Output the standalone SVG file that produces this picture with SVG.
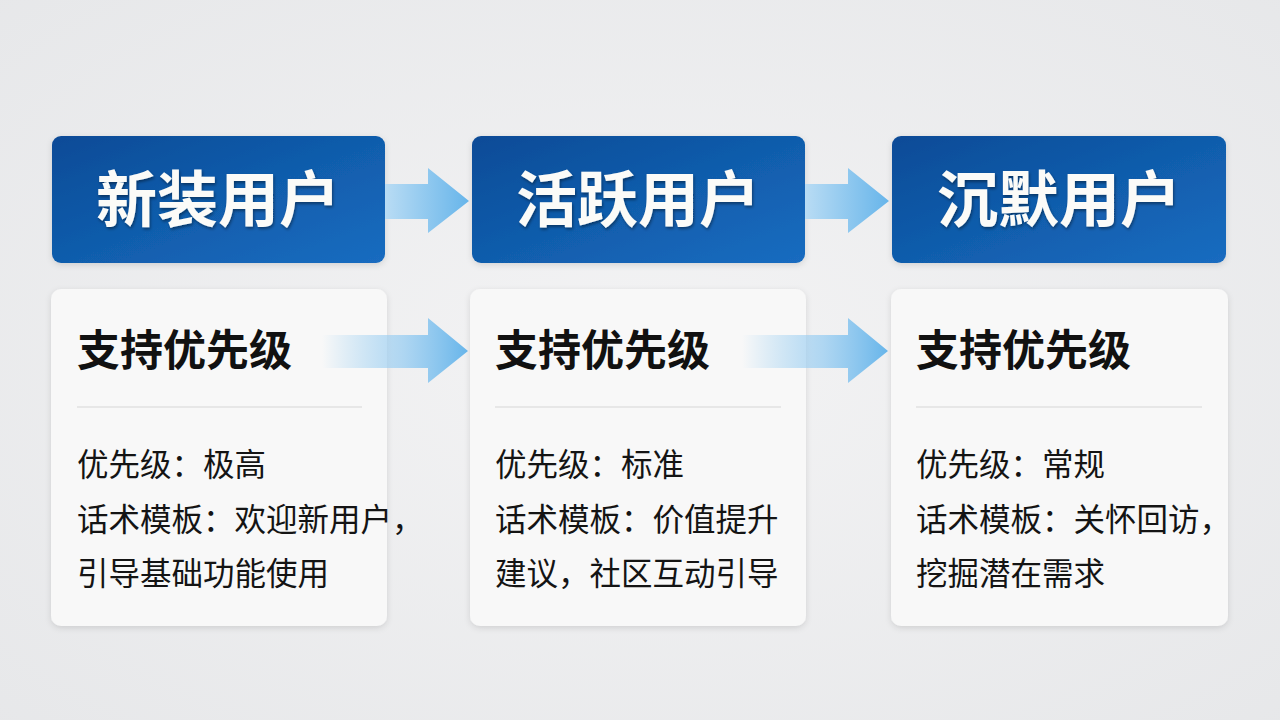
<svg xmlns="http://www.w3.org/2000/svg" width="1280" height="720" viewBox="0 0 1280 720">
<defs>
<radialGradient id="bg" cx="0.5" cy="0.5" r="0.75">
<stop offset="0" stop-color="#f3f3f4"/>
<stop offset="1" stop-color="#e6e7e9"/>
</radialGradient>
<linearGradient id="hdr" x1="0" y1="0" x2="1" y2="1">
<stop offset="0" stop-color="#0b4b97"/>
<stop offset="0.6" stop-color="#1260b0"/>
<stop offset="1" stop-color="#1a6cc0"/>
</linearGradient>
<linearGradient id="arrTop" gradientUnits="objectBoundingBox" x1="0" y1="0" x2="1" y2="0">
<stop offset="0" stop-color="#b9dcf4"/>
<stop offset="1" stop-color="#67b5ea"/>
</linearGradient>
<linearGradient id="arrBot" gradientUnits="objectBoundingBox" x1="0" y1="0" x2="1" y2="0">
<stop offset="0" stop-color="#8cc8f0" stop-opacity="0"/>
<stop offset="0.55" stop-color="#9fd0f2" stop-opacity="0.8"/>
<stop offset="1" stop-color="#67b5ea"/>
</linearGradient>
<filter id="sh" x="-10%" y="-10%" width="120%" height="125%">
<feDropShadow dx="0" dy="2" stdDeviation="3" flood-color="#000" flood-opacity="0.12"/>
</filter>
<filter id="tsh" x="-10%" y="-10%" width="120%" height="130%">
<feDropShadow dx="1" dy="2" stdDeviation="1.5" flood-color="#000" flood-opacity="0.4"/>
</filter>
</defs>
<style>
.hdr{fill:url(#hdr);}
.card{fill:#f8f8f8;}
.htxt{font-family:"Noto Sans CJK SC","Noto Sans",sans-serif;font-weight:700;font-size:61px;fill:#fbfbf8;text-anchor:middle;}
.ttl{font-family:"Noto Sans CJK SC","Noto Sans",sans-serif;font-weight:700;font-size:43px;fill:#111;}
.body{font-family:"Noto Sans CJK SC","Noto Sans",sans-serif;font-weight:400;font-size:31.5px;fill:#141414;}
.div{stroke:#e2e2e2;stroke-width:1.5;}
</style>
<rect width="1280" height="720" fill="url(#bg)"/>

<g id="node-new">
<rect class="hdr" x="52" y="136" width="333" height="127" rx="9" filter="url(#sh)"/>
<text class="htxt" x="218" y="222" filter="url(#tsh)">新装用户</text>
</g>
<g id="node-active">
<rect class="hdr" x="472" y="136" width="333" height="127" rx="9" filter="url(#sh)"/>
<text class="htxt" x="638" y="222" filter="url(#tsh)">活跃用户</text>
</g>
<g id="node-silent">
<rect class="hdr" x="892" y="136" width="334" height="127" rx="9" filter="url(#sh)"/>
<text class="htxt" x="1059" y="222" filter="url(#tsh)">沉默用户</text>
</g>

<g id="card-new">
<rect class="card" x="51" y="289" width="336" height="337" rx="10" filter="url(#sh)"/>
<text class="ttl" x="77" y="366">支持优先级</text>
<line class="div" x1="77" y1="407" x2="362" y2="407"/>
<text class="body" x="77" y="476">优先级：极高</text>
<text class="body" x="77" y="531">话术模板：欢迎新用户，</text>
<text class="body" x="77" y="585">引导基础功能使用</text>
</g>
<g id="card-active">
<rect class="card" x="470" y="289" width="336" height="337" rx="10" filter="url(#sh)"/>
<text class="ttl" x="495" y="366">支持优先级</text>
<line class="div" x1="495" y1="407" x2="781" y2="407"/>
<text class="body" x="495" y="476">优先级：标准</text>
<text class="body" x="495" y="531">话术模板：价值提升</text>
<text class="body" x="495" y="585">建议，社区互动引导</text>
</g>
<g id="card-silent">
<rect class="card" x="891" y="289" width="337" height="337" rx="10" filter="url(#sh)"/>
<text class="ttl" x="916" y="366">支持优先级</text>
<line class="div" x1="916" y1="407" x2="1202" y2="407"/>
<text class="body" x="916" y="476">优先级：常规</text>
<text class="body" x="916" y="531">话术模板：关怀回访，</text>
<text class="body" x="916" y="585">挖掘潜在需求</text>
</g>

<g id="connectors">
<path d="M385 184 H428 V168 L469 201 L428 233 V219 H385 Z" fill="url(#arrTop)"/>
<path d="M805 184 H848 V168 L889 201 L848 233 V219 H805 Z" fill="url(#arrTop)"/>
<path d="M322 335 H428 V318 L468 351 L428 383 V368 H322 Z" fill="url(#arrBot)"/>
<path d="M742 335 H848 V318 L888 351 L848 383 V368 H742 Z" fill="url(#arrBot)"/>
</g>
</svg>
